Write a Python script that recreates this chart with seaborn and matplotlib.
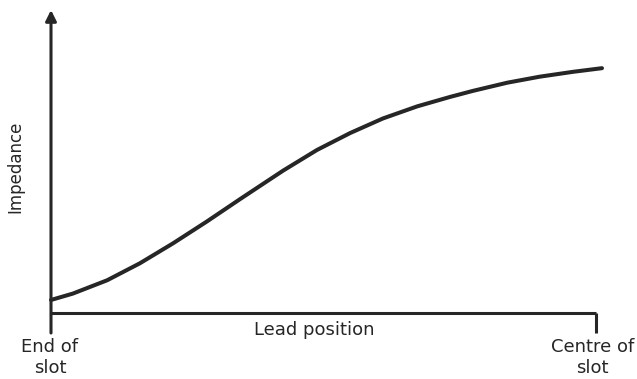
import matplotlib
matplotlib.use("Agg")
import matplotlib.pyplot as plt
import seaborn as sns
import pandas as pd

# Impedance seen by the lead as it moves from the end of the slot to its centre
lead_position = [0.0, 0.040, 0.103, 0.163, 0.224, 0.286, 0.347, 0.426, 0.488,
                 0.549, 0.609, 0.672, 0.732, 0.774, 0.837, 0.897, 0.958, 1.011]
impedance = [0.043, 0.064, 0.108, 0.164, 0.230, 0.302, 0.376, 0.470, 0.538,
             0.594, 0.642, 0.682, 0.713, 0.733, 0.760, 0.780, 0.796, 0.808]
x_end_labels = ["End of\nslot", "Centre of\nslot"]

sns.set_theme(style="white")
plt.rcParams["font.family"] = ["DejaVu Sans"]

ink = "#262626"
df = pd.DataFrame({"Lead position": lead_position, "Impedance": impedance})

fig = plt.figure(figsize=(6.37, 3.79), dpi=100)
fig.patch.set_facecolor("white")
ax = fig.add_axes([51 / 637, 66 / 379, 545 / 637, 303 / 379])
ax.set_xlim(0, 1)
ax.set_ylim(0, 1)

sns.lineplot(data=df, x="Lead position", y="Impedance", ax=ax, color=ink,
             linewidth=2.9, sort=True, estimator=None, clip_on=False)
for ln in ax.lines:
    ln.set_solid_joinstyle("round")
    ln.set_solid_capstyle("round")

for s in ax.spines.values():
    s.set_visible(False)
ax.set_xticks([])
ax.set_yticks([])
ax.set_xlabel("")
ax.set_ylabel("")

# vertical axis with arrow, extending below the horizontal axis
ax.annotate("", xy=(0, 1.0), xytext=(0, -0.066), xycoords="data",
            arrowprops=dict(arrowstyle="-|>", color=ink, lw=2.2,
                            mutation_scale=16, shrinkA=0, shrinkB=0),
            annotation_clip=False)
# horizontal axis with end tick at the slot centre
ax.plot([0, 1], [0, 0], color=ink, lw=2.2, clip_on=False, solid_capstyle="butt")
ax.plot([1, 1], [0, -0.066], color=ink, lw=2.2, clip_on=False, solid_capstyle="butt")

fs = 13
ax.text(-0.066, 0.482, "Impedance", rotation=90, ha="center", va="center",
        fontsize=12, color=ink, clip_on=False)
ax.text(0.483, -0.056, "Lead position", ha="center", va="center",
        fontsize=fs, color=ink, clip_on=False)
ax.text(-0.002, -0.147, x_end_labels[0], ha="center", va="center",
        fontsize=fs, color=ink, linespacing=1.2, clip_on=False)
ax.text(0.993, -0.147, x_end_labels[1], ha="center", va="center",
        fontsize=fs, color=ink, linespacing=1.2, clip_on=False)

fig.savefig("out.png", dpi=100, facecolor="white")
